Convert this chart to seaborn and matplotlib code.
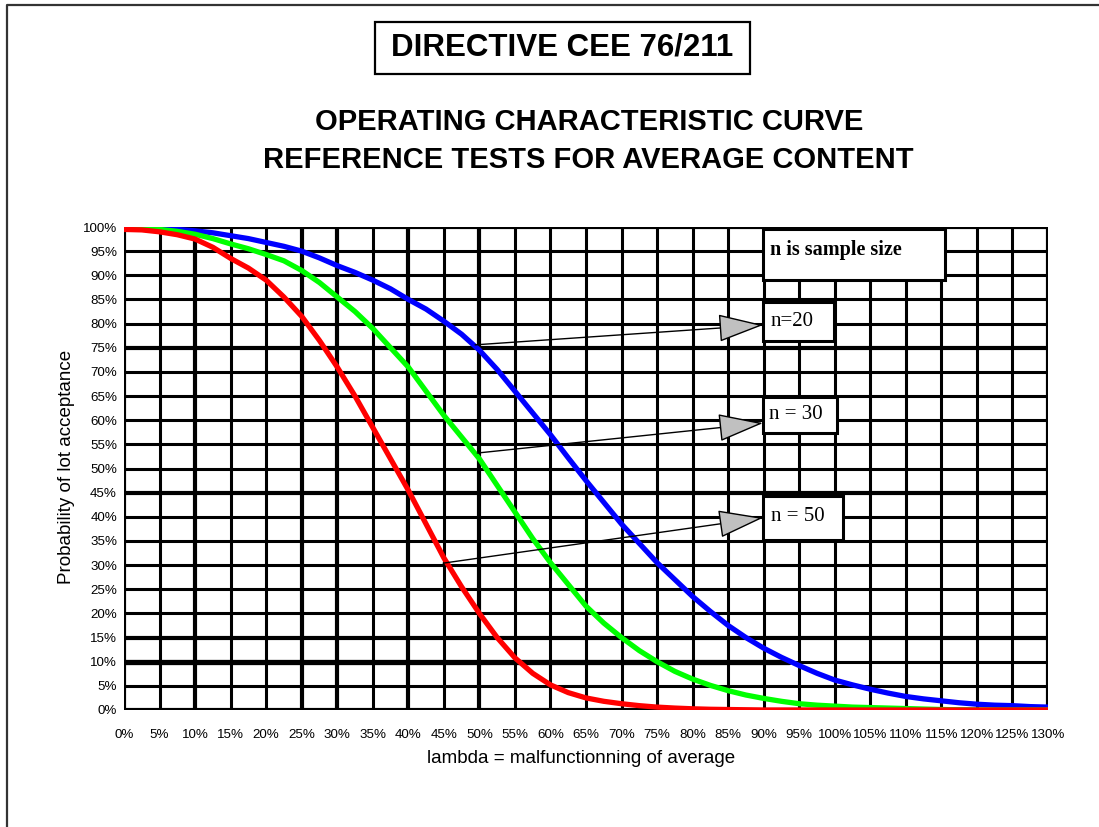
import numpy as np
import pandas as pd
import matplotlib
matplotlib.use("Agg")
import matplotlib.pyplot as plt
from matplotlib.patches import Rectangle
from matplotlib.lines import Line2D
import seaborn as sns

# lambda (malfunctioning of average, %) read every 2.5%
lam = [i * 2.5 for i in range(53)]

# probability of lot acceptance (%)
p_n20 = [100, 99.9, 99.7, 99.5, 99.2, 98.8, 98.2, 97.6, 96.8, 96.0, 95.0, 93.6, 92.0,
         90.6, 89.0, 87.2, 85.0, 83.0, 80.5, 77.8, 74.5, 70.5, 66.0, 61.5, 57.0, 52.2,
         47.5, 43.0, 38.5, 34.5, 30.5, 27.0, 23.5, 20.4, 17.5, 15.0, 12.8, 10.9, 9.2,
         7.6, 6.2, 5.2, 4.3, 3.5, 2.8, 2.3, 1.9, 1.5, 1.2, 1.0, 0.9, 0.7, 0.6]
p_n30 = [100, 99.8, 99.5, 99.1, 98.5, 97.6, 96.5, 95.5, 94.3, 93.0, 91.0, 88.5, 85.5,
         82.5, 79.0, 75.0, 71.0, 66.0, 61.0, 56.5, 52.0, 46.5, 41.0, 35.5, 30.5, 26.0,
         21.5, 18.0, 15.0, 12.3, 10.0, 8.0, 6.4, 5.1, 4.0, 3.1, 2.4, 1.8, 1.3, 1.0,
         0.8, 0.6, 0.5, 0.4, 0.3, 0.2, 0.1, 0.05, 0.0, 0.0, 0.0, 0.0, 0.0]
p_n50 = [99.5, 99.4, 99.0, 98.4, 97.5, 95.8, 93.5, 91.5, 89.0, 85.5, 81.5, 76.5, 71.0,
         65.0, 58.5, 52.0, 45.5, 38.5, 31.5, 25.5, 20.0, 15.0, 10.8, 7.6, 5.2, 3.6,
         2.5, 1.8, 1.3, 0.9, 0.6, 0.4, 0.25, 0.15, 0.1, 0.05, 0.0, 0.0, 0.0, 0.0,
         0.0, 0.0, 0.0, 0.0, 0.0, 0.0, 0.0, 0.0, 0.0, 0.0, 0.0, 0.0, 0.0]

sizes = ["n=20", "n=30", "n=50"]
colors = {"n=20": "#0000ff", "n=30": "#00ff00", "n=50": "#ff0000"}

df = pd.DataFrame({
    "lam": lam * 3,
    "prob": p_n20 + p_n30 + p_n50,
    "n": [s for s in sizes for _ in lam],
})

sns.set_style("white")
plt.rcParams["font.family"] = ["Liberation Sans", "DejaVu Sans"]
plt.rcParams["text.color"] = "black"
plt.rcParams["axes.labelcolor"] = "black"
plt.rcParams["xtick.color"] = "black"
plt.rcParams["ytick.color"] = "black"

fig = plt.figure(figsize=(10.99, 8.27), dpi=100)
ax = fig.add_axes([124 / 1099, 117 / 827, 924 / 1099, 483 / 827])

# grid first, curves on top
for v in range(0, 135, 5):
    w = 3.0 if v in (0, 10, 25, 30, 40, 50, 130) else 2.2
    ax.axvline(v, color="black", lw=w, zorder=1)
for h in range(0, 105, 5):
    w = 3.0 if h in (0, 15, 45, 75, 100) else 2.2
    ax.axhline(h, color="black", lw=w, zorder=1)
ax.plot([0, 93.5], [10, 10], color="black", lw=3.8, zorder=1)

sns.lineplot(data=df, x="lam", y="prob", hue="n", palette=colors, linewidth=3.8,
             legend=False, ax=ax, zorder=3)

ax.set_xlim(0, 130)
ax.set_ylim(0, 100)
ax.set_xticks(range(0, 135, 5))
ax.set_xticklabels([f"{v}%" for v in range(0, 135, 5)])
ax.set_yticks(range(0, 105, 5))
ax.set_yticklabels([f"{v}%" for v in range(0, 105, 5)])
ax.set_xticks(np.arange(2.5, 130, 5), minor=True)
ax.set_yticks(np.arange(2.5, 100, 5), minor=True)
ax.tick_params(axis="x", which="major", direction="out", length=8, width=2.5,
               labelsize=9.6, pad=6)
ax.tick_params(axis="x", which="minor", direction="inout", length=13, width=2.2)
ax.tick_params(axis="y", which="major", direction="out", length=4, width=1.2,
               labelsize=9.6, pad=1)
ax.tick_params(axis="y", which="minor", direction="in", length=6, width=2.2)
for s in ax.spines.values():
    s.set_visible(False)

ax.set_xlabel("lambda = malfunctionning of average", fontsize=13.5)
ax.xaxis.set_label_coords(0.4946, -0.083)
ax.set_ylabel("Probability of lot acceptance", fontsize=13.5)
ax.yaxis.set_label_coords(-0.053, 0.503)

# explanatory boxes
boxes = [((89.9, 89.0), 25.6, 10.6), ((89.9, 76.4), 10.0, 8.1),
         ((89.9, 57.3), 10.4, 7.5), ((89.9, 35.2), 11.3, 9.1)]
for (x0, y0), w, h in boxes:
    ax.add_patch(Rectangle((x0, y0), w, h, facecolor="white", edgecolor="black",
                           lw=2.2, zorder=4))
ax.text(90.9, 95.3, "n is sample size", fontsize=14.5, fontweight="bold",
        family="Liberation Serif", va="center", ha="left", zorder=5)
ax.text(91.0, 80.5, "n=20", fontsize=15, family="Liberation Serif",
        va="center", ha="left", zorder=5)
ax.text(90.8, 61.2, "n = 30", fontsize=15, family="Liberation Serif",
        va="center", ha="left", zorder=5)
ax.text(91.0, 40.0, "n = 50", fontsize=15, family="Liberation Serif",
        va="center", ha="left", zorder=5)

arrows = [((49.4, 75.6), (89.9, 79.7)), ((49.7, 53.2), (89.9, 59.4)),
          ((44.9, 30.4), (89.9, 39.8))]
for tail, tip in arrows:
    ax.annotate("", xy=tip, xytext=tail,
                arrowprops=dict(arrowstyle="-|>,head_length=29,head_width=9",
                                mutation_scale=1, facecolor="#c0c0c0",
                                edgecolor="black", lw=1.0, shrinkA=0, shrinkB=0),
                zorder=4)

# page titles
fig.text(562 / 1099, 1 - 48 / 827, "DIRECTIVE CEE 76/211", fontsize=22.5,
         fontweight="bold", ha="center", va="center")
fig.add_artist(Rectangle((375 / 1099, 1 - 74 / 827), 375 / 1099, 52 / 827,
                         transform=fig.transFigure, fill=False, lw=1.6,
                         edgecolor="black"))
fig.text(589 / 1099, 1 - 122 / 827, "OPERATING CHARACTERISTIC CURVE", fontsize=21,
         fontweight="bold", ha="center", va="center")
fig.text(588 / 1099, 1 - 160 / 827, "REFERENCE TESTS FOR AVERAGE CONTENT",
         fontsize=21, fontweight="bold", ha="center", va="center")

# page border (left and top edges)
fig.add_artist(Line2D([7 / 1099, 7 / 1099, 1.0], [0.0, 1 - 5 / 827, 1 - 5 / 827],
                      transform=fig.transFigure, color="#333333", lw=1.6))

fig.savefig("out.png", dpi=100)
